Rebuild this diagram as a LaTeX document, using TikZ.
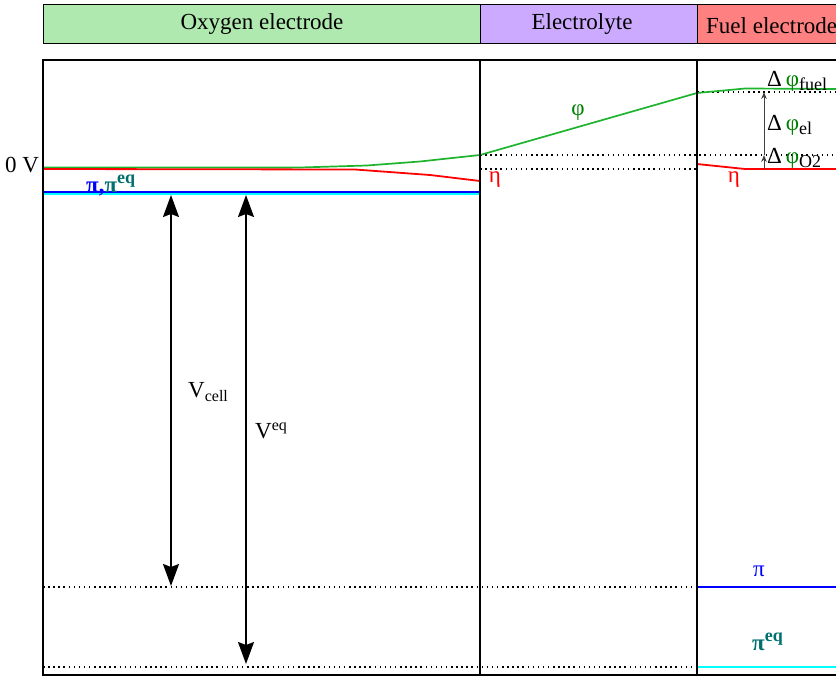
\documentclass[tikz,border=0pt]{standalone}
\usepackage{fontspec}
\setmainfont{Liberation Serif}
\usetikzlibrary{arrows.meta}
\definecolor{oxy}{RGB}{175,233,175}
\definecolor{elyte}{RGB}{204,170,255}
\definecolor{fuel}{RGB}{255,128,128}
\definecolor{phigreen}{RGB}{29,179,45}
\definecolor{txtgreen}{RGB}{0,128,0}
\definecolor{eqteal}{RGB}{0,111,111}
\definecolor{pureblue}{RGB}{0,0,255}
\definecolor{purecyan}{RGB}{0,255,255}
\definecolor{purered}{RGB}{255,0,0}
\tikzset{
  header/.style={draw=black,line width=0.9pt,minimum height=38.5pt,anchor=north west,inner sep=0pt},
  headtext/.style={inner sep=0pt,font=\fontsize{23}{25}\selectfont},
  frameline/.style={draw=black,line width=1.9pt},
  guide/.style={draw=black,line width=1.2pt,dash pattern=on 1.5pt off 3.6pt},
  philine/.style={draw=phigreen,line width=1.7pt},
  etaline/.style={draw=purered,line width=1.8pt},
  piline/.style={draw=pureblue,line width=1.8pt},
  eqline/.style={draw=purecyan,line width=2pt},
  bigarrow/.style={draw=black,line width=1.6pt,{Stealth[length=22pt,width=16pt,inset=3pt]}-{Stealth[length=22pt,width=16pt,inset=3pt]}},
  smallarrow/.style={draw=black!75,line width=1pt,-{Stealth[length=7pt,width=5.5pt]}},
  lab/.style={inner sep=0pt,font=\fontsize{23}{25}\selectfont},
}
\newcommand{\dphi}[1]{\fontsize{23}{25}\selectfont Δ\,{\color{txtgreen}φ}\raisebox{-4pt}{\fontsize{18}{20}\selectfont #1}}
\begin{document}
\begin{tikzpicture}[x=1pt,y=-1pt]
\useasboundingbox (0,0) rectangle (836,677);
\clip (0,0) rectangle (836,677);
% headers
\node[header,fill=oxy,minimum width=437.5pt] (hoxy) at (42.5,4.5) {};
\node[header,fill=elyte,minimum width=217pt] (hel) at (480,4.5) {};
\node[header,fill=fuel,minimum width=160pt] (hfuel) at (697,4.5) {};
\node[headtext] (toxy) at (262,24) {Oxygen electrode};
\node[headtext] (tel) at (582,24) {Electrolyte};
\node[headtext,anchor=west] (tfuel) at (706,26) {Fuel electrode};
% frame corner coordinates
\coordinate (ftl) at (42.6,60); \coordinate (ftr) at (840,60);
\coordinate (fbl) at (42.6,675); \coordinate (fbr) at (840,675);
\coordinate (d1t) at (480,60); \coordinate (d1b) at (480,675);
\coordinate (d2t) at (697,60); \coordinate (d2b) at (697,675);
% guides
\coordinate (g1a) at (480,155); \coordinate (g1b) at (840,155);
\coordinate (g2a) at (480,169); \coordinate (g2b) at (697,169);
\coordinate (g3a) at (697,92); \coordinate (g3b) at (840,92);
\coordinate (g4a) at (43,587); \coordinate (g4b) at (697,587);
\coordinate (g5a) at (43,667); \coordinate (g5b) at (697,667);
\draw[guide] (g1a) -- (g1b);
\draw[guide] (g2a) -- (g2b);
\draw[guide] (g3a) -- (g3b);
\draw[guide] (g4a) -- (g4b);
\draw[guide] (g5a) -- (g5b);
% level lines
\draw[philine] (43,167.5) -- (300,167.5) -- (367,165.5) -- (420,161.5) -- (480,155) -- (697,93) -- (745,88.5) -- (840,89);
\draw[etaline] (43,169) -- (355,169.5) -- (430,175) -- (480,181);
\draw[etaline] (697,164) -- (745,169) -- (840,169);
\coordinate (c1a) at (43,193.6); \coordinate (c1b) at (480,193.6);
\coordinate (p1a) at (43,191.6); \coordinate (p1b) at (480,191.6);
\coordinate (p2a) at (697,587); \coordinate (p2b) at (840,587);
\coordinate (c2a) at (697,667); \coordinate (c2b) at (840,667);
\draw[eqline] (c1a) -- (c1b);
\draw[piline] (p1a) -- (p1b);
\draw[piline] (p2a) -- (p2b);
\draw[eqline] (c2a) -- (c2b);
% frame
\draw[frameline] (ftr) -- (ftl) -- (fbl) -- (fbr);
\draw[frameline] (d1t) -- (d1b);
\draw[frameline] (d2t) -- (d2b);
% arrows
\coordinate (a1t) at (171,195); \coordinate (a1b) at (171,586);
\coordinate (a2t) at (246,195); \coordinate (a2b) at (246,664);
\draw[bigarrow] (a1t) -- (a1b);
\draw[bigarrow] (a2t) -- (a2b);
\coordinate (s0) at (764,169); \coordinate (s1) at (764,155); \coordinate (s2) at (764,92);
\draw[smallarrow] (s0) -- (s1);
\draw[smallarrow] (s1) -- (s2);
% labels
\node[lab,anchor=west] (zero) at (5,165) {0 V};
\node[inner sep=0pt,anchor=base west,font=\fontsize{23}{25}\selectfont\bfseries] (pi1) at (86,192) {{\color{pureblue}π,}{\color{eqteal}π\raisebox{9pt}{\fontsize{18}{20}\selectfont eq}}};
\node[lab,text=txtgreen] (phi) at (578,113) {φ};
\node[lab,text=purered] (eta1) at (495,180) {η};
\node[lab,text=purered] (eta2) at (734,180) {η};
\node[lab,anchor=base west] (vcell) at (188,397) {V\raisebox{-4pt}{\fontsize{16}{18}\selectfont cell}};
\node[lab,anchor=base west] (veq) at (255,438) {V\raisebox{8pt}{\fontsize{16}{18}\selectfont eq}};
\node[inner sep=0pt,anchor=base west] (dfuel) at (767,87) {\dphi{fuel}};
\node[inner sep=0pt,anchor=base west] (del) at (767,130) {\dphi{el}};
\node[inner sep=0pt,anchor=base west] (do2) at (767,163) {\dphi{O2}};
\node[lab,text=pureblue] (pi2) at (759,571) {π};
\node[inner sep=0pt,anchor=base west,font=\fontsize{23}{25}\selectfont\bfseries] (pi3) at (752,650) {{\color{eqteal}π\raisebox{9pt}{\fontsize{18}{20}\selectfont eq}}};
\end{tikzpicture}
\end{document}
